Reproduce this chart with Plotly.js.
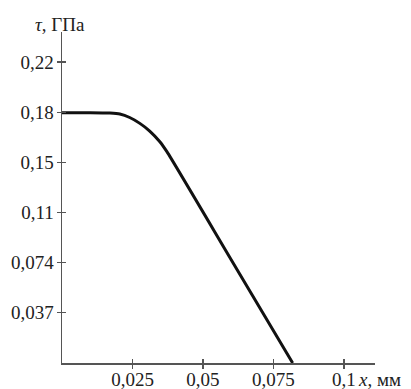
<!DOCTYPE html>
<html><head><meta charset="utf-8">
<script src="https://cdn.plot.ly/plotly-3.0.1.min.js"></script>
<style>html,body{margin:0;padding:0;background:#fff}#c{width:411px;height:389px}</style>
</head><body><div id="c"></div>
<script>
// Curve data (x in mm, tau in GPa)
const xMm = [0, 0.010, 0.0170, 0.0205, 0.0240, 0.0276, 0.0311, 0.0347, 0.0372, 0.0600, 0.0818];
const tauGPa = [0.1830, 0.1830, 0.1827, 0.1820, 0.1795, 0.1752, 0.1696, 0.1618, 0.1545, 0.0755, 0];

// Tick values / labels
const xTickVals = [0.025, 0.05, 0.075, 0.1];
const xTickText = ["0,025", "0,05", "0,075", "0,1"];
const yTickVals = [0.03667, 0.07333, 0.11, 0.14667, 0.18333, 0.22];
const yTickText = ["0,037", "0,074", "0,11", "0,15", "0,18", "0,22"];

const font = {family: "Liberation Serif, Times New Roman, serif", size: 19, color: "#222"};
const axCol = "#555";

const data = [
  {x: xMm, y: tauGPa, type: "scatter", mode: "lines",
   line: {color: "#111", width: 3, shape: "spline", smoothing: 0.6}, hoverinfo: "skip", showlegend: false},
  {x: [0], y: [0], xaxis: "x2", yaxis: "y2", type: "scatter", mode: "markers",
   marker: {opacity: 0}, hoverinfo: "skip", showlegend: false}
];

const range_x = [0, 0.111];
const range_y = [0, 0.242];

const layout = {
  width: 411, height: 389,
  margin: {l: 62, r: 36, t: 32, b: 26},
  paper_bgcolor: "#fff", plot_bgcolor: "#fff",
  font: font,
  xaxis: {range: range_x, tickvals: xTickVals, ticktext: xTickText,
    showgrid: false, zeroline: false, showline: true, linecolor: axCol, linewidth: 1.5,
    ticks: "outside", ticklen: 4, tickcolor: axCol, tickwidth: 1.2, tickfont: font,
    ticklabelstandoff: -5},
  yaxis: {range: range_y, tickvals: yTickVals, ticktext: yTickText,
    showgrid: false, zeroline: false, showline: true, linecolor: axCol, linewidth: 1.5,
    ticks: "outside", ticklen: 4, tickcolor: axCol, tickwidth: 1.2, tickfont: font,
    ticklabelstandoff: -1},
  xaxis2: {range: range_x, overlaying: "x", tickvals: xTickVals, showticklabels: false,
    showgrid: false, zeroline: false, showline: false,
    ticks: "inside", ticklen: 4, tickcolor: axCol, tickwidth: 1.2},
  yaxis2: {range: range_y, overlaying: "y", tickvals: yTickVals, showticklabels: false,
    showgrid: false, zeroline: false, showline: false,
    ticks: "inside", ticklen: 4, tickcolor: axCol, tickwidth: 1.2},
  annotations: [
    {text: "<i>τ</i>, ГПа", xref: "paper", yref: "paper", x: -0.09, y: 1,
     xanchor: "left", yanchor: "bottom", yshift: -4, borderpad: 0, showarrow: false, font: font},
    {text: "<i>x</i>, мм", xref: "paper", yref: "paper", x: 0.944, y: 0,
     xanchor: "left", yanchor: "top", yshift: -5, borderpad: 0, showarrow: false, font: font}
  ]
};

Plotly.newPlot("c", data, layout, {staticPlot: true, displayModeBar: false});
</script></body></html>
